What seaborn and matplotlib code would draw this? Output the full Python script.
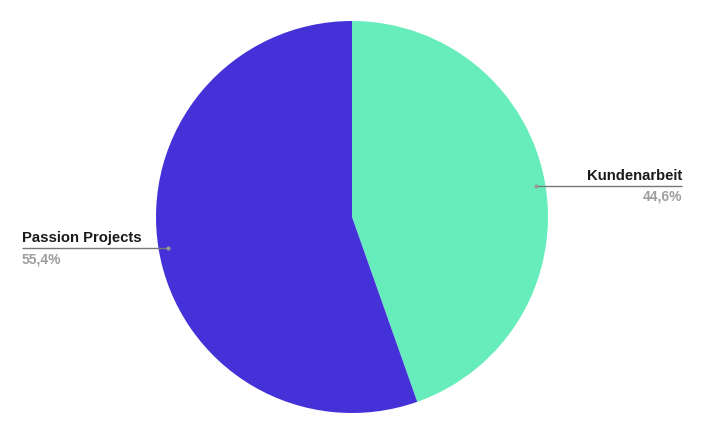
import numpy as np
import matplotlib
matplotlib.use("Agg")
import matplotlib.pyplot as plt
import seaborn as sns

labels = ["Kundenarbeit", "Passion Projects"]
values = [44.6, 55.4]
value_labels = ["44,6%", "55,4%"]
colors = ["#67EDBC", "#4432D8"]

sns.set_theme(style="white")
plt.rcParams['font.family'] = ['Liberation Sans', 'DejaVu Sans']

W, H = 704, 436
fig = plt.figure(figsize=(W / 100, H / 100), dpi=100)
ax = fig.add_axes([0, 0, 1, 1])
ax.set_xlim(0, W)
ax.set_ylim(0, H)
ax.set_aspect('equal')
ax.axis('off')

cx, cy, r = 352, H - 217, 196
ax.pie(values, colors=colors, startangle=90, counterclock=False,
       center=(cx, cy), radius=r, frame=True,
       wedgeprops=dict(linewidth=0))
ax.set_xlim(0, W)
ax.set_ylim(0, H)
ax.axis('off')

total = sum(values)
cum = 0
text_x = {0: 682, 1: 22}
for i, (lab, v, vl) in enumerate(zip(labels, values, value_labels)):
    mid = (cum + v / 2) / total * 360
    cum += v
    ang = np.deg2rad(90 - mid)
    ax_ = cx + 0.95 * r * np.cos(ang)
    ay_ = cy + 0.95 * r * np.sin(ang)
    right = np.cos(ang) > 0
    tx = text_x[0] if right else text_x[1]
    ax.plot([ax_, tx], [ay_, ay_], color="#777777", lw=1, solid_capstyle='butt')
    ax.plot([ax_], [ay_], 'o', color="#999999", ms=3, mew=0)
    ha = 'right' if right else 'left'
    ax.text(tx, ay_ + 3, lab, ha=ha, va='bottom', fontsize=10.7,
            fontweight='bold', color="#1a1a1a")
    ax.text(tx, ay_ - 4, vl, ha=ha, va='top', fontsize=10,
            fontweight='bold', color="#9e9e9e")

fig.savefig("out.png", dpi=100, facecolor="white")
